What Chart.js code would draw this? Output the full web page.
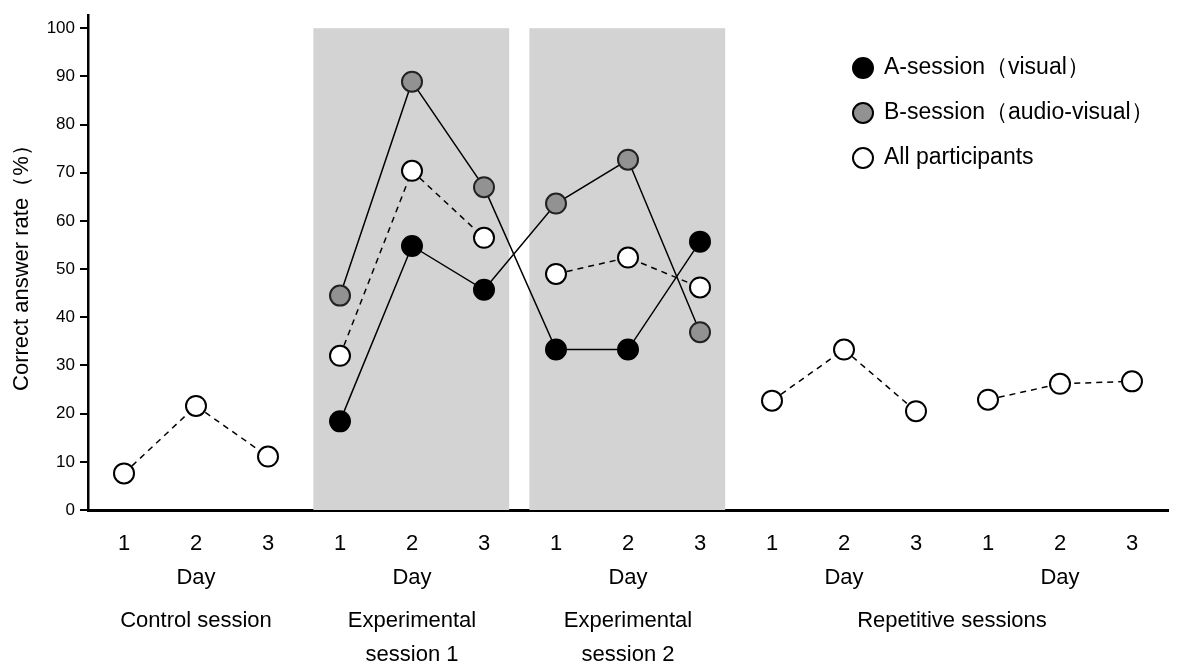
<!DOCTYPE html>
<html>
<head>
<meta charset="utf-8">
<script src="https://cdn.jsdelivr.net/npm/chart.js@4/dist/chart.umd.min.js"></script>
<style>
  body { margin: 0; background: #fff; }
</style>
</head>
<body>
<canvas id="chart" width="1190" height="664"></canvas>
<script>
// x categories: three days per session block
const dayLabels = ['1', '2', '3', '1', '2', '3', '1', '2', '3', '1', '2', '3', '1', '2', '3'];
const yTicks = [0, 10, 20, 30, 40, 50, 60, 70, 80, 90, 100];

// correct answer rate (%)
const aSession = [null, null, null, 18.4, 54.8, 45.7, 33.3, 33.3, 55.7, null, null, null, null, null, null];
const bSession = [null, null, null, 44.5, 88.9, 67.0, 63.6, 72.7, 36.9, null, null, null, null, null, null];
const allParticipants = [7.6, 21.6, 11.1, 32.0, 70.4, 56.5, 49.0, 52.4, 46.2, 22.7, 33.3, 20.5, 22.9, 26.2, 26.7];

const seriesNames = ['A-session（visual）', 'B-session（audio-visual）', 'All participants'];

// the two participant groups swap session type after experimental session 1
const swapAt = 6;
const groupOne = dayLabels.map((_, i) => (i < swapAt ? aSession[i] : bSession[i]));
const groupTwo = dayLabels.map((_, i) => (i < swapAt ? bSession[i] : aSession[i]));

// label rows under the axis
const dayCaptions = [1, 4, 7, 10, 13];
const sessionCaptions = [
    [[1], ['Control session']],
    [[4], ['Experimental', 'session 1']],
    [[7], ['Experimental', 'session 2']],
    [[11, 12], ['Repetitive sessions']]
];
const shadedBlocks = [[3, 5], [6, 8]];

const FONT = '"Liberation Sans", Arial, sans-serif';

const backgroundBands = {
    id: 'backgroundBands',
    beforeDatasetsDraw(chart) {
        const {ctx, scales: {x, y}} = chart;
        const step = x.getPixelForValue(1) - x.getPixelForValue(0);
        ctx.save();
        ctx.fillStyle = '#d3d3d3';
        shadedBlocks.forEach(([from, to]) => {
            const left = x.getPixelForValue(from) - step * 0.37;
            const right = x.getPixelForValue(to) + step * 0.35;
            const top = y.getPixelForValue(100);
            ctx.fillRect(left, top, right - left, y.getPixelForValue(0) - top);
        });
        ctx.restore();
    }
};

const captions = {
    id: 'captions',
    afterDraw(chart) {
        const {ctx, scales: {x}} = chart;
        ctx.save();
        ctx.fillStyle = '#000';
        ctx.textAlign = 'center';
        ctx.textBaseline = 'middle';
        ctx.font = '22px ' + FONT;
        dayCaptions.forEach(i => {
            ctx.fillText('Day', x.getPixelForValue(i), x.top + 68);
        });
        sessionCaptions.forEach(([idx, lines]) => {
            const cx = idx.reduce((s, i) => s + x.getPixelForValue(i), 0) / idx.length;
            lines.forEach((line, k) => {
                ctx.fillText(line, cx, x.top + 111 + k * 34);
            });
        });
        ctx.restore();
    }
};

const insideLegend = {
    id: 'insideLegend',
    afterDraw(chart) {
        const {ctx} = chart;
        ctx.save();
        ctx.font = '23px ' + FONT;
        ctx.textBaseline = 'middle';
        chart.data.datasets.filter(ds => ds.label).forEach((ds, i) => {
            const cy = 68 + i * 45;
            ctx.beginPath();
            ctx.arc(863, cy, 10, 0, Math.PI * 2);
            ctx.fillStyle = ds.pointBackgroundColor;
            ctx.fill();
            ctx.lineWidth = 2;
            ctx.strokeStyle = '#000';
            ctx.stroke();
            ctx.fillStyle = '#000';
            ctx.fillText(ds.label, 884, cy);
        });
        ctx.restore();
    }
};

const marker = (fill, border) => ({
    pointBackgroundColor: fill,
    pointBorderColor: border,
    pointBorderWidth: 2,
    pointRadius: 10
});

const ctx = document.getElementById('chart').getContext('2d');
new Chart(ctx, {
    type: 'line',
    data: {
        labels: dayLabels,
        datasets: [{
            label: seriesNames[0],
            data: aSession,
            showLine: false,
            ...marker('#000', '#000'),
            order: 0
        }, {
            label: seriesNames[1],
            data: bSession,
            showLine: false,
            ...marker('#929292', '#222'),
            order: 0
        }, {
            label: seriesNames[2],
            data: allParticipants,
            borderColor: '#000',
            borderWidth: 1.5,
            borderDash: [6, 5],
            ...marker('#fff', '#000'),
            order: 1,
            segment: {
                // no line between session blocks
                borderColor: c => (c.p0DataIndex % 3 === 2 ? 'rgba(0,0,0,0)' : undefined)
            }
        }, {
            data: groupOne,
            borderColor: '#000',
            borderWidth: 1.5,
            pointRadius: 0,
            order: 2
        }, {
            data: groupTwo,
            borderColor: '#000',
            borderWidth: 1.5,
            pointRadius: 0,
            order: 2
        }]
    },
    options: {
        responsive: false,
        animation: false,
        devicePixelRatio: 1,
        layout: {padding: {top: 12, right: 22, left: 0, bottom: 0}},
        plugins: {
            legend: {display: false},
            tooltip: {enabled: false}
        },
        scales: {
            x: {
                offset: true,
                grid: {display: false, offset: true},
                border: {display: true, color: '#000', width: 3},
                ticks: {color: '#000', padding: 13, font: {family: FONT, size: 22}, maxRotation: 0, autoSkip: false},
                afterFit: scale => { scale.height = 154; }
            },
            y: {
                min: 0,
                max: 102.7,
                afterBuildTicks: scale => { scale.ticks = yTicks.map(v => ({value: v})); },
                grid: {drawOnChartArea: false, drawTicks: true, tickLength: 8, color: '#000', lineWidth: 2},
                border: {display: true, color: '#000', width: 2.5},
                ticks: {color: '#000', padding: 5, font: {family: FONT, size: 17}},
                title: {
                    display: true,
                    text: 'Correct answer rate（%）',
                    color: '#000',
                    font: {family: FONT, size: 22},
                    padding: {top: 9, bottom: 0}
                },
                afterFit: scale => { scale.width = 88; }
            }
        }
    },
    plugins: [backgroundBands, captions, insideLegend]
});
</script>
</body>
</html>
